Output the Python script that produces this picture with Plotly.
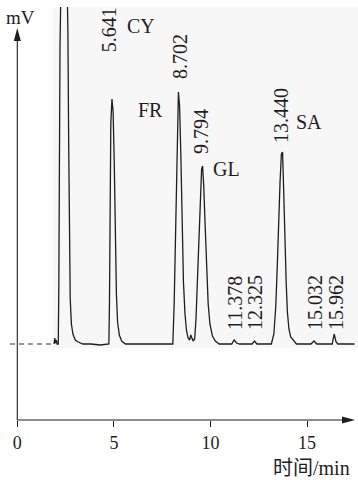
import plotly.graph_objects as go

# ---- data (time in min, signal in arbitrary mV units) ----
time_min = [1.90, 1.94, 1.97, 2.02, 2.06,
            2.12, 2.15, 2.18, 2.21, 2.26, 2.40, 2.55, 2.62, 2.66, 2.70, 2.74, 2.80, 2.88, 3.00, 3.15, 3.40,
            3.80, 4.30, 4.60,
            4.74, 4.77, 4.80, 4.84, 4.90, 4.96, 5.02, 5.08, 5.13, 5.19, 5.28, 5.40, 5.60,
            6.50, 7.50,
            8.05, 8.12, 8.19, 8.26, 8.34, 8.40, 8.47, 8.53, 8.60, 8.68, 8.76, 8.84,
            8.92, 8.98, 9.04, 9.10,
            9.18, 9.25, 9.32, 9.40, 9.47, 9.54, 9.59, 9.65, 9.72, 9.80, 9.88, 9.97, 10.10, 10.25, 10.45,
            11.10, 11.22, 11.35, 11.50,
            12.15, 12.28, 12.40,
            13.15, 13.28, 13.38, 13.46, 13.53, 13.60, 13.67, 13.73, 13.79, 13.85, 13.92, 13.98, 14.06, 14.15, 14.30, 14.45,
            15.20, 15.36, 15.50,
            16.30, 16.40, 16.50, 16.60, 17.45]
signal = [0, 6, 1, 4, 0,
          0, 60, 200, 297, 360, 460, 400, 310, 200, 100, 45, 20, 10, 4, 2, 0,
          0, -1, 0,
          0, 40, 140, 220, 245, 232, 180, 105, 50, 22, 9, 3, 0,
          0, 0,
          0, 40, 95, 175, 252, 238, 185, 115, 62, 30, 13, 6,
          4, 9, 5, 3,
          5, 25, 62, 105, 148, 175, 178, 158, 120, 75, 40, 20, 8, 3, 0,
          0, 4, 1, 0,
          0, 3, 0,
          0, 10, 38, 80, 125, 162, 190, 192, 152, 100, 60, 32, 15, 7, 3, 0,
          0, 3, 0,
          0, 10, 2, 0, 0]

peak_labels = ["5.641", "8.702", "9.794", "11.378", "12.325", "13.440", "15.032", "15.962"]
peak_label_t = [4.76, 8.40, 9.48, 11.24, 12.28, 13.62, 15.38, 16.47]
peak_label_y = [314, 287.5, 212.5, 41.5, 41.5, 228.5, 41.5, 41.5]

compound_names = ["CY", "FR", "GL", "SA"]
compound_t = [6.38, 6.89, 10.83, 15.10]
compound_y = [318.5, 234.5, 175.5, 222.5]

x_ticks = [0, 5, 10, 15]
x_tick_text = ["0", "5", "10", "15"]

# ---- layout geometry ----
W, H = 358, 484
X_RANGE = [-0.8954, 17.635]
Y_RANGE = [-76, 337]
PX_X = W / (X_RANGE[1] - X_RANGE[0])      # px per minute
PX_Y = (H - 7 - 64) / (Y_RANGE[1] - Y_RANGE[0])  # px per unit
FONT = "Liberation Serif, Times New Roman, Noto Sans CJK SC, serif"
INK = "#1e1e1e"

fig = go.Figure()

# dashed baseline extension left of the trace
fig.add_trace(go.Scatter(x=[-0.38, 1.92], y=[0, 0], mode="lines",
                         line=dict(color="#333", width=1.2, dash="5px,4px"),
                         hoverinfo="skip", showlegend=False))
# chromatogram
fig.add_trace(go.Scatter(x=time_min, y=signal, mode="lines",
                         line=dict(color=INK, width=1.3),
                         showlegend=False))

annotations = []
for txt, t, y in zip(peak_labels, peak_label_t, peak_label_y):
    annotations.append(dict(x=t, y=y, xref="x", yref="y", text=txt, showarrow=False,
                            textangle=-90, xanchor="center", yanchor="middle",
                            font=dict(family=FONT, size=20, color=INK)))
for txt, t, y in zip(compound_names, compound_t, compound_y):
    annotations.append(dict(x=t, y=y, xref="x", yref="y", text=txt, showarrow=False,
                            xanchor="center", yanchor="middle",
                            font=dict(family=FONT, size=20, color=INK)))
annotations.append(dict(x=0.19, y=327, xref="x", yref="y", text="mV", showarrow=False,
                        xanchor="center", yanchor="middle",
                        font=dict(family=FONT, size=19, color=INK)))
annotations.append(dict(x=352 / W, y=(420 - 468) / (H - 71), xref="paper", yref="paper",
                        text="时间/min", showarrow=False, xanchor="right", yanchor="middle",
                        font=dict(family=FONT, size=20, color=INK)))

y_tip = 316
x_tip = 17.48
head_len, head_half = 13, 3.5
shapes = [
    # light scanned background
    dict(type="rect", xref="x", yref="y", x0=1.85, x1=X_RANGE[1], y0=-4, y1=Y_RANGE[1],
         fillcolor="#f7f7f7", line=dict(width=0), layer="below"),
    # y axis line + arrow head
    dict(type="line", xref="x", yref="paper", x0=0, x1=0, y0=0,
         y1=(y_tip - head_len + 2 - Y_RANGE[0]) / (Y_RANGE[1] - Y_RANGE[0]),
         line=dict(color=INK, width=1.1)),
    dict(type="path", xref="x", yref="y",
         path=f"M0,{y_tip} L{-head_half / PX_X},{y_tip - head_len / PX_Y} L{head_half / PX_X},{y_tip - head_len / PX_Y} Z",
         fillcolor=INK, line=dict(width=0)),
    # x axis line + arrow head
    dict(type="line", xref="x", yref="paper", x0=0, x1=x_tip - (head_len - 2) / PX_X, y0=0, y1=0,
         line=dict(color=INK, width=1.1)),
    dict(type="path", xref="x", yref="paper",
         path=(f"M{x_tip},0 L{x_tip - head_len / PX_X},{head_half / (H - 71)} "
               f"L{x_tip - head_len / PX_X},{-head_half / (H - 71)} Z"),
         fillcolor=INK, line=dict(width=0)),
]

fig.update_layout(
    width=W, height=H,
    margin=dict(l=0, r=0, t=7, b=64, pad=0),
    paper_bgcolor="white", plot_bgcolor="white",
    showlegend=False,
    annotations=annotations,
    shapes=shapes,
    xaxis=dict(range=X_RANGE, showgrid=False, zeroline=False, showline=False,
               tickmode="array", tickvals=x_ticks, ticktext=x_tick_text,
               ticks="outside", ticklen=6, tickwidth=1.1, tickcolor=INK,
               tickfont=dict(family=FONT, size=18, color=INK), fixedrange=True),
    yaxis=dict(range=Y_RANGE, showgrid=False, zeroline=False, showline=False,
               showticklabels=False, ticks="", fixedrange=True),
)

fig.write_html("out.html",
               config={"displayModeBar": False},
               post_script="document.body.style.margin='0';document.body.style.overflow='hidden';")
